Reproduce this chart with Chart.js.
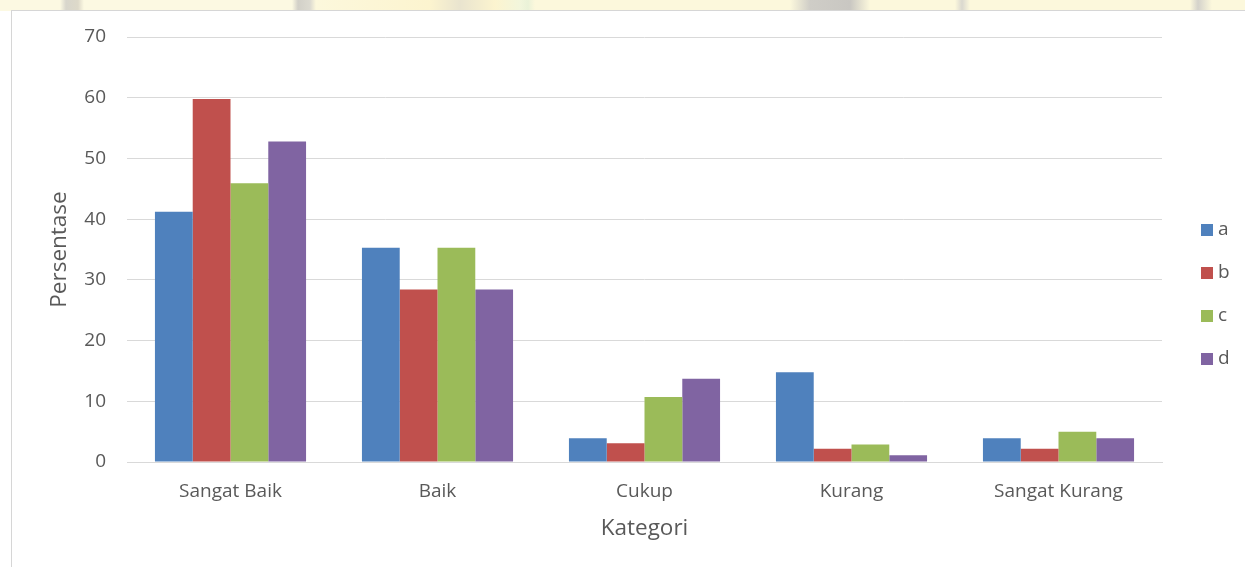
<!DOCTYPE html>
<html>
<head>
<meta charset="utf-8">
<script src="https://cdn.jsdelivr.net/npm/chart.js@4.4.0/dist/chart.umd.min.js"></script>
<style>
html,body{margin:0;padding:0;}
body{width:1245px;height:567px;overflow:hidden;position:relative;background:#fff;}
#strip{position:absolute;left:0;top:0;width:1245px;height:11px;
background:linear-gradient(90deg,#fcf9e2 0px,#fcf9e2 60px,#d8d6cc 66px,#ddd9c9 78px,#fcf9e2 84px,#fcf9e2 292px,#d2d0c8 298px,#dcdad0 310px,#fcf8dc 316px,#fcf4cf 430px,#e9e4cf 460px,#fcf4cf 495px,#f2f6dc 520px,#eaf2d8 528px,#fcf8dc 535px,#fcf8dc 790px,#cfcdc7 810px,#c9c7c2 850px,#fcf8dc 870px,#fcf8dc 955px,#dad8cf 962px,#fcf8dc 970px,#fcf8dc 1190px,#d4d2cb 1198px,#fcf8dc 1212px,#fcf8dc 1245px);}
#frame{position:absolute;left:11px;top:10px;width:1240px;height:560px;border-left:1px solid #d6d6d6;border-top:1px solid #d6d6d6;background:#fff;}
#wrap{position:absolute;left:0;top:0;width:1245px;height:567px;}
</style>
</head>
<body>
<div id="strip"></div>
<div id="frame"></div>
<div id="wrap"><canvas id="c" width="1245" height="567"></canvas></div>
<script>
const categories = ['Sangat Baik', 'Baik', 'Cukup', 'Kurang', 'Sangat Kurang'];
const seriesNames = ['a', 'b', 'c', 'd'];
const seriesA = [41.2, 35.3, 3.9, 14.8, 3.9];
const seriesB = [59.8, 28.4, 3.1, 2.2, 2.2];
const seriesC = [45.9, 35.3, 10.7, 2.9, 5.0];
const seriesD = [52.8, 28.4, 13.7, 1.1, 3.9];
const seriesColors = ['#4f81bd', '#c0504d', '#9bbb59', '#8064a2'];
const yMin = 0, yMax = 70, yStep = 10;
const xTitle = 'Kategori';
const yTitle = 'Persentase';

const FONT = '"Open Sans", "DejaVu Sans", sans-serif';
const TEXT = '#595959';
const GRID = '#d9d9d9';

const allSeries = [seriesA, seriesB, seriesC, seriesD];

const manualLegend = {
  id: 'manualLegend',
  afterDraw(chart) {
    const ctx = chart.ctx;
    ctx.save();
    ctx.font = '19px ' + FONT;
    ctx.textBaseline = 'middle';
    ctx.textAlign = 'left';
    chart.data.datasets.forEach((ds, i) => {
      const cy = 230 + i * 43;
      ctx.fillStyle = ds.backgroundColor;
      ctx.fillRect(1201, cy - 6, 12, 12);
      ctx.fillStyle = TEXT;
      ctx.fillText(ds.label, 1218, cy);
    });
    ctx.restore();
  }
};

new Chart(document.getElementById('c'), {
  type: 'bar',
  data: {
    labels: categories,
    datasets: seriesNames.map((n, i) => ({
      label: n,
      data: allSeries[i],
      backgroundColor: seriesColors[i],
      borderWidth: 0,
      barPercentage: 1,
      categoryPercentage: 0.73
    }))
  },
  options: {
    responsive: false,
    animation: false,
    devicePixelRatio: 1,
    layout: { padding: { top: 37, right: 83, bottom: 0, left: 0 } },
    plugins: {
      legend: { display: false },
      tooltip: { enabled: false }
    },
    scales: {
      x: {
        afterFit(scale) { scale.height = 105; },
        grid: { display: false, drawTicks: false },
        border: { display: true, color: GRID, width: 1 },
        ticks: { color: TEXT, font: { family: FONT, size: 19 }, padding: 18, maxRotation: 0 },
        title: { display: true, text: xTitle, color: TEXT, font: { family: FONT, size: 22.5 }, padding: { top: 0, bottom: 25 } }
      },
      y: {
        min: yMin, max: yMax,
        afterFit(scale) { scale.width = 127; },
        grid: { color: GRID, lineWidth: 1, drawTicks: false },
        border: { display: false },
        ticks: { stepSize: yStep, color: TEXT, font: { family: FONT, size: 19 }, padding: 21 },
        title: { display: true, text: yTitle, color: TEXT, font: { family: FONT, size: 22.5 }, padding: { top: 46, bottom: 0 } }
      }
    }
  },
  plugins: [manualLegend]
});
</script>
</body>
</html>
